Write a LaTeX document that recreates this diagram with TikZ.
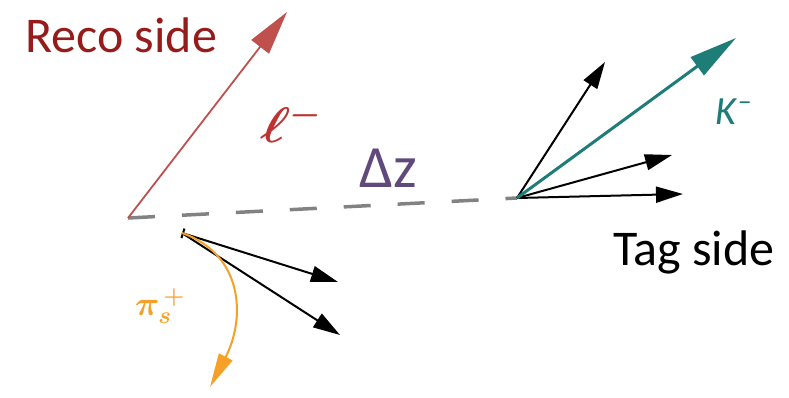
\RequirePackage{fix-cm}
\documentclass[tikz,border=0pt]{standalone}
\usepackage{fontspec}
\setmainfont{Carlito}
\usepackage{bm}
\usetikzlibrary{arrows.meta}
\definecolor{recotext}{RGB}{150,28,28}
\definecolor{recoarrow}{RGB}{192,80,77}
\definecolor{ellred}{RGB}{190,50,50}
\definecolor{dzpurple}{RGB}{96,74,123}
\definecolor{kteal}{RGB}{31,125,120}
\definecolor{dashgray}{RGB}{130,130,130}
\definecolor{pionorange}{RGB}{247,160,40}
\begin{document}
\begin{tikzpicture}[x=1pt,y=-1pt,
  blackarrow/.style={draw=black, line width=2pt, -{Triangle[length=27pt,width=16pt]}},
  tealarrow/.style={draw=kteal, line width=3pt, -{Triangle[length=48pt,width=22pt]}},
  redarrow/.style={draw=recoarrow, line width=1.8pt, -{Triangle[length=44pt,width=22pt]}},
  orangearrow/.style={draw=pionorange, line width=2pt, -{Triangle[length=34pt,width=15pt]}},
  dzline/.style={draw=dashgray, line width=3.5pt, dash pattern=on 27pt off 27pt},
  bigtext/.style={inner sep=0pt, font=\fontsize{50}{52}\selectfont}
]
\useasboundingbox (0,0) rectangle (789,397);
% vertices
\coordinate (reco) at (128,218);
\coordinate (tag) at (517,198);
\coordinate (sec) at (182,233);
% endpoints
\coordinate (lep) at (287,12);
\coordinate (k) at (736,38);
\coordinate (t1) at (605,62);
\coordinate (t2) at (672,155);
\coordinate (t3) at (683,194);
\coordinate (s1) at (338,282);
\coordinate (s2) at (340,335);
\coordinate (pi) at (210,387);
% dashed flight line
\draw[dzline] (reco) -- (tag);
% reco side
\draw[redarrow] (reco) -- (lep);
\draw[blackarrow, {Bar[width=10pt]}-{Triangle[length=27pt,width=16pt]}] (sec) -- (s1);
\draw[blackarrow] (sec) -- (s2);
\draw[orangearrow] (sec) .. controls (245,255) and (245,320) .. (pi);
% tag side
\draw[blackarrow] (tag) -- (t1);
\draw[blackarrow] (tag) -- (t2);
\draw[blackarrow] (tag) -- (t3);
\draw[tealarrow] (tag) -- (k);
% labels
\node[bigtext, text=recotext, anchor=base west] (recolabel) at (25,52) {Reco side};
\node[bigtext, text=black, anchor=base west] (taglabel) at (613,265) {Tag side};
\node[inner sep=0pt, text=dzpurple, font=\fontsize{60}{62}\selectfont] (dzlabel) at (388,168) {Δz};
\node[inner sep=0pt, text=ellred, font=\fontsize{50}{52}\selectfont, xslant=0.25, transform shape] (elllabel) at (292,122) {$\bm{\ell}^{\bm{-}}$};
\node[inner sep=0pt, text=kteal, font=\fontsize{40}{42}\selectfont] (klabel) at (734,112) {\textit{K}\textsuperscript{–}};
\node[inner sep=0pt, text=pionorange, font=\fontsize{34}{36}\selectfont] (pilabel) at (160,306) {$\bm{\pi}_{\bm{s}}^{\,\bm{+}}$};
\end{tikzpicture}
\end{document}
